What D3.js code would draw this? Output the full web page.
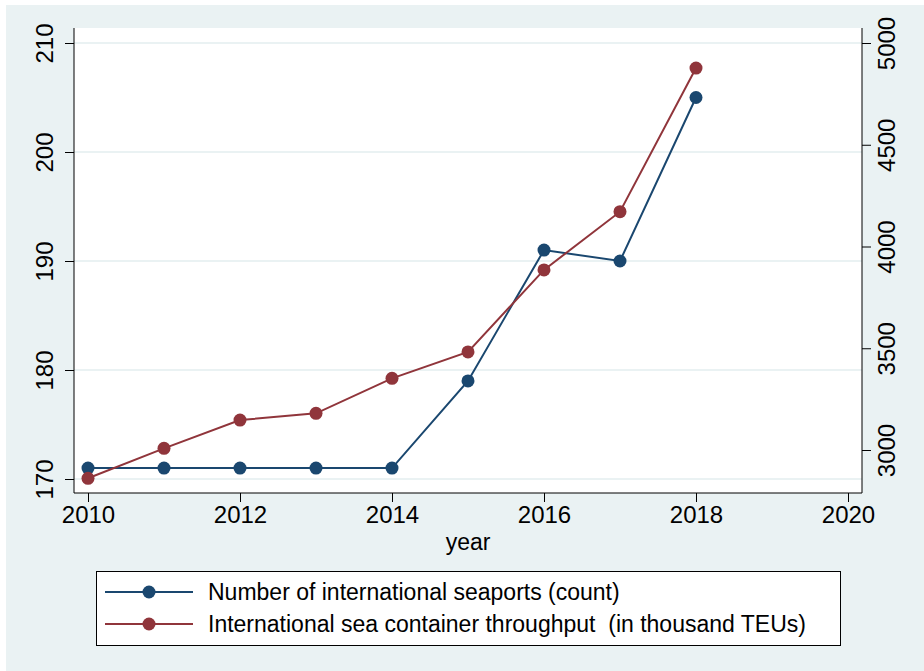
<!DOCTYPE html>
<html lang="en">
<head>
<meta charset="utf-8">
<title>Seaports and container throughput</title>
<script type="text/javascript" src="https://cdnjs.cloudflare.com/ajax/libs/d3/7.8.5/d3.min.js"></script>
<style>
body { margin: 0; background: #fff; }
text { font-family: "Liberation Sans", Arial, sans-serif; fill: #000; }
</style>
</head>
<body>
<div id="chart"></div>
<script type="text/javascript">

// data
var years = [2010, 2011, 2012, 2013, 2014, 2015, 2016, 2017, 2018];
var seaports = [171, 171, 171, 171, 171, 179, 191, 190, 205];
var throughput = [2861, 3008, 3147, 3180, 3352, 3482, 3885, 4171, 4877];

var xTicks = [2010, 2012, 2014, 2016, 2018, 2020];
var yLeftTicks = [170, 180, 190, 200, 210];
var yRightTicks = [3000, 3500, 4000, 4500, 5000];

var legendLabels = [
    "Number of international seaports (count)",
    "International sea container throughput  (in thousand TEUs)"
];

var blue = "#1a476f", red = "#90353b", bg = "#eaf2f3";

var width = 924, height = 671;
var plot = {left: 74, right: 862, top: 28, bottom: 493};

var svg = d3.select("#chart").append("svg")
    .attr("width", width)
    .attr("height", height);

svg.append("rect")
    .attr("x", 6).attr("y", 5)
    .attr("width", width - 6).attr("height", height - 5)
    .attr("fill", bg);

svg.append("rect")
    .attr("x", plot.left).attr("y", plot.top)
    .attr("width", plot.right - plot.left).attr("height", plot.bottom - plot.top)
    .attr("fill", "#fff");

var x = d3.scaleLinear().domain([2010, 2020]).range([88, 848]);
var yL = d3.scaleLinear().domain([170, 210]).range([479, 43]);
var yR = d3.scaleLinear().domain([3000, 5000]).range([450, 43]);

// gridlines from left axis
svg.append("g").selectAll("line")
    .data(yLeftTicks)
    .enter().append("line")
        .attr("x1", plot.left).attr("x2", plot.right)
        .attr("y1", d => yL(d)).attr("y2", d => yL(d))
        .attr("stroke", bg).attr("stroke-width", 2);

function styleAxis(g) {
    g.select(".domain").remove();
    g.selectAll(".tick line").attr("stroke", "#000").attr("stroke-width", 1);
    g.selectAll(".tick text").style("font-size", "24px").attr("fill", "#000");
}

// left axis
var gl = svg.append("g")
    .attr("transform", "translate(" + plot.left + ",0)")
    .call(d3.axisLeft(yL).tickValues(yLeftTicks).tickSize(9).tickPadding(0))
    .call(styleAxis);
gl.selectAll(".tick text")
    .attr("x", 0).attr("dy", 0)
    .attr("text-anchor", "middle")
    .attr("transform", "translate(-21,0) rotate(-90)");

// right axis
var gr = svg.append("g")
    .attr("transform", "translate(" + plot.right + ",0)")
    .call(d3.axisRight(yR).tickValues(yRightTicks).tickFormat(d3.format("d")).tickSize(9).tickPadding(0))
    .call(styleAxis);
gr.selectAll(".tick text")
    .attr("x", 0).attr("dy", 0)
    .attr("text-anchor", "middle")
    .attr("transform", "translate(33,0) rotate(-90)");

// bottom axis
var gb = svg.append("g")
    .attr("transform", "translate(0," + plot.bottom + ")")
    .call(d3.axisBottom(x).tickValues(xTicks).tickFormat(d3.format("d")).tickSize(9).tickPadding(4))
    .call(styleAxis);

// frame lines
svg.append("line")
    .attr("x1", plot.left).attr("x2", plot.left)
    .attr("y1", plot.top).attr("y2", plot.bottom)
    .attr("stroke", "#000").attr("stroke-width", 1);
svg.append("line")
    .attr("x1", plot.right).attr("x2", plot.right)
    .attr("y1", plot.top).attr("y2", plot.bottom)
    .attr("stroke", "#000").attr("stroke-width", 1);
svg.append("line")
    .attr("x1", plot.left).attr("x2", plot.right)
    .attr("y1", plot.bottom).attr("y2", plot.bottom)
    .attr("stroke", "#000").attr("stroke-width", 1);

svg.append("text")
    .attr("x", (plot.left + plot.right) / 2)
    .attr("y", 550)
    .attr("text-anchor", "middle")
    .style("font-size", "23px")
    .text("year");

// series
var series = [
    {values: seaports, y: yL, color: blue},
    {values: throughput, y: yR, color: red}
];

series.forEach(function(s) {
    var pts = years.map((yr, i) => [x(yr), s.y(s.values[i])]);
    svg.append("path")
        .attr("d", d3.line()(pts))
        .attr("fill", "none")
        .attr("stroke", s.color)
        .attr("stroke-width", 2);
    svg.append("g").selectAll("circle")
        .data(pts)
        .enter().append("circle")
            .attr("cx", d => d[0])
            .attr("cy", d => d[1])
            .attr("r", 6.5)
            .attr("fill", s.color);
});

// legend
var legend = svg.append("g");
legend.append("rect")
    .attr("x", 96.5).attr("y", 571.5)
    .attr("width", 744).attr("height", 74)
    .attr("fill", "#fff")
    .attr("stroke", "#000")
    .attr("stroke-width", 1);

var rows = legend.selectAll(".row")
    .data(legendLabels)
    .enter().append("g")
        .attr("class", "row")
        .attr("transform", (d, i) => "translate(0," + (592 + i * 32) + ")");
rows.append("line")
    .attr("x1", 105).attr("x2", 193)
    .attr("stroke", (d, i) => series[i].color)
    .attr("stroke-width", 2);
rows.append("circle")
    .attr("cx", 149).attr("r", 6.5)
    .attr("fill", (d, i) => series[i].color);
rows.append("text")
    .attr("x", 208).attr("dy", "0.36em")
    .style("font-size", "23px")
    .style("white-space", "pre")
    .text(d => d);

</script>
</body>
</html>
